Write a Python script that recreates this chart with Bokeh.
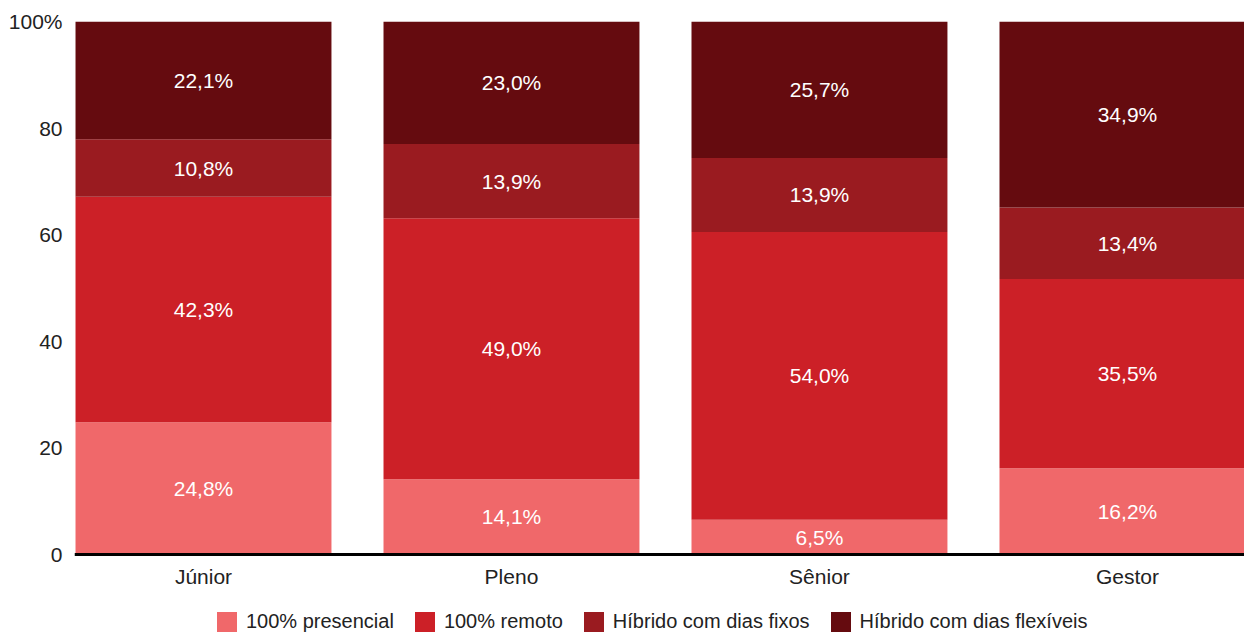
from bokeh.plotting import figure
from bokeh.models import ColumnDataSource, FixedTicker, Legend, LegendItem
from bokeh.core.properties import value
from bokeh.embed import file_html
from bokeh.resources import INLINE

categories = ["Júnior", "Pleno", "Sênior", "Gestor"]
series = ["100% presencial", "100% remoto", "Híbrido com dias fixos", "Híbrido com dias flexíveis"]
presencial = [24.8, 14.1, 6.5, 16.2]
remoto = [42.3, 49.0, 54.0, 35.5]
hibrido_fixos = [10.8, 13.9, 13.9, 13.4]
hibrido_flex = [22.1, 23.0, 25.7, 34.9]
colors = ["#F0686A", "#CC2027", "#9A1B20", "#650B0F"]
y_ticks = [0, 20, 40, 60, 80, 100]
y_tick_labels = ["0", "20", "40", "60", "80", "100%"]

FONT = "Liberation Sans"
xs = list(range(len(categories)))
keys = ["s0", "s1", "s2", "s3"]
data = {"x": xs}
for k, vals in zip(keys, [presencial, remoto, hibrido_fixos, hibrido_flex]):
    data[k] = vals
source = ColumnDataSource(data)

# frame spans 21..634 vertically; value 0 sits at y=554 (80px above the bottom)
p = figure(width=1244, height=634, x_range=(-0.4188, 3.380), y_range=(-15.01, 100),
           output_backend="svg", toolbar_location=None,
           min_border_left=74, min_border_right=0, min_border_top=21, min_border_bottom=0)
p.outline_line_color = None
p.background_fill_color = "white"
p.border_fill_color = "white"

renderers = p.vbar_stack(keys, x="x", width=0.831, color=colors, line_color=None, source=source)

# value labels
lx, ly, lt = [], [], []
for i in xs:
    base = 0.0
    for vals in [presencial, remoto, hibrido_fixos, hibrido_flex]:
        v = vals[i]
        lx.append(i)
        ly.append(base + v / 2)
        lt.append(f"{v:.1f}%".replace(".", ","))
        base += v
p.text(x=lx, y=ly, text=lt, text_align="center", text_baseline="middle",
       text_color="white", text_font=value(FONT), text_font_size="21px")

p.xgrid.visible = False
p.ygrid.visible = False

xa = p.xaxis[0]
xa.fixed_location = 0
xa.ticker = FixedTicker(ticks=xs)
xa.major_label_overrides = {i: c for i, c in zip(xs, categories)}
xa.major_tick_line_color = None
xa.minor_tick_line_color = None
xa.major_tick_out = 0
xa.major_tick_in = 0
xa.axis_line_color = "black"
xa.axis_line_width = 3
xa.major_label_text_font = FONT
xa.major_label_text_font_size = "21px"
xa.major_label_text_color = "#222222"
xa.major_label_standoff = 11

ya = p.yaxis[0]
ya.ticker = FixedTicker(ticks=y_ticks)
ya.major_label_overrides = {t: l for t, l in zip(y_ticks, y_tick_labels)}
ya.axis_line_color = None
ya.major_tick_line_color = None
ya.minor_tick_line_color = None
ya.major_tick_out = 0
ya.major_tick_in = 0
ya.major_label_text_font = FONT
ya.major_label_text_font_size = "21px"
ya.major_label_text_color = "#222222"
ya.major_label_standoff = 12

legend = Legend(items=[LegendItem(label=s, renderers=[r]) for s, r in zip(series, renderers)],
                orientation="horizontal", location=(140, 0),
                glyph_width=25, glyph_height=25, label_standoff=7, spacing=18,
                padding=0, margin=0, border_line_color=None, background_fill_alpha=0,
                label_text_font=FONT, label_text_font_size="20px", label_text_color="#222222")
p.add_layout(legend, "center")

open("out.html", "w").write(file_html(p, INLINE))
